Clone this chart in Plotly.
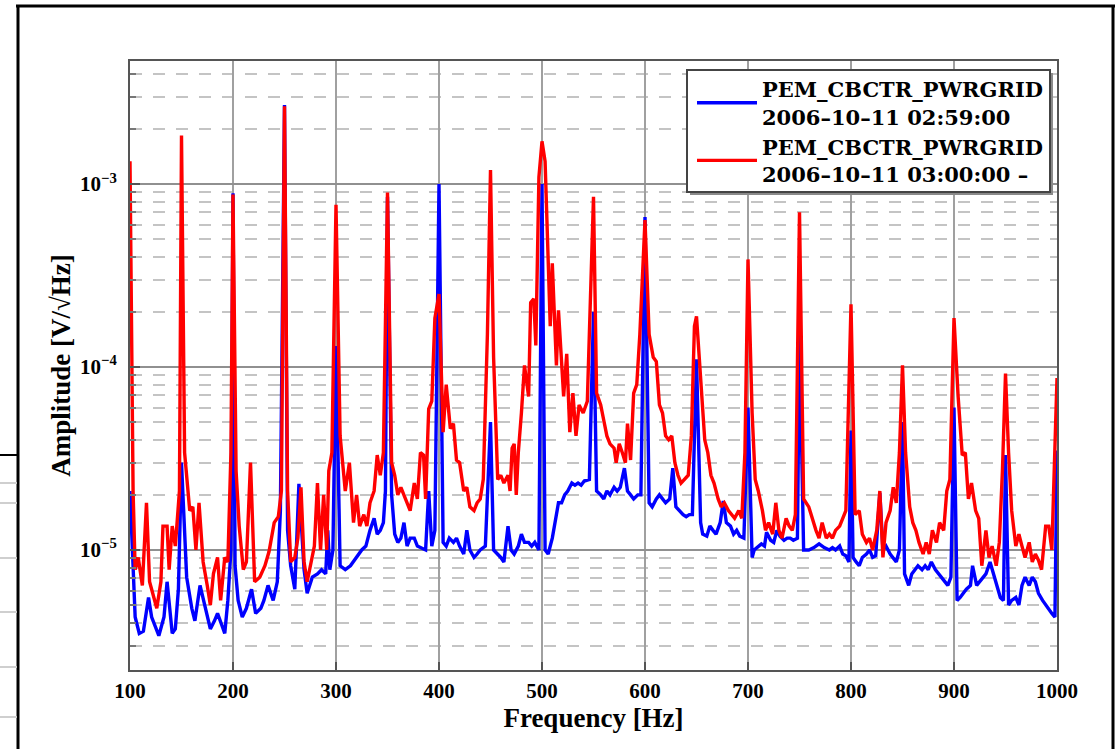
import plotly.graph_objects as go

# ---------------- data ----------------
blue_freq = [100, 105, 109, 113, 118, 121, 128, 133, 136, 141, 144, 147, 150, 155, 160, 163, 168, 173, 178, 182,
             185, 189, 192, 195, 198, 200, 202, 205, 209, 213, 218, 222, 227, 230, 234, 239, 243, 246, 250, 253,
             256, 260, 264, 269, 272, 277, 282, 286, 290, 292, 294, 297, 300, 304, 309, 314, 320, 325, 329, 333,
             337, 340, 343, 346, 348, 350, 354, 357, 360, 363, 366, 369, 372, 376, 379, 382, 387, 390, 393, 396,
             400, 404, 407, 410, 414, 417, 420, 424, 427, 430, 434, 437, 440, 445, 450, 453, 457, 460, 463, 467,
             470, 473, 477, 480, 483, 487, 490, 493, 497, 500, 503, 506, 510, 513, 516, 519, 522, 525, 529, 532,
             535, 538, 541, 546, 550, 553, 557, 560, 563, 566, 570, 573, 576, 580, 583, 586, 589, 593, 596, 600,
             604, 607, 611, 614, 617, 620, 624, 627, 630, 633, 637, 640, 643, 646, 650, 654, 656, 660, 663, 666,
             669, 673, 676, 679, 683, 686, 689, 692, 696, 700, 704, 706, 710, 713, 716, 718, 722, 725, 728, 731,
             735, 738, 741, 744, 748, 750, 754, 759, 764, 769, 774, 779, 782, 785, 789, 792, 795, 798, 800, 802,
             805, 808, 811, 815, 818, 821, 824, 828, 831, 834, 838, 841, 844, 847, 850, 852, 856, 859, 862, 865,
             869, 872, 875, 878, 882, 885, 888, 891, 894, 897, 900, 903, 906, 909, 912, 916, 918, 922, 925, 928,
             931, 935, 939, 942, 945, 948, 950, 953, 956, 960, 963, 966, 969, 973, 976, 979, 982, 986, 989, 992,
             995, 998, 1000]
blue_amp = [2.1e-5, 4.3e-6, 3.5e-6, 3.6e-6, 5.5e-6, 4.3e-6, 3.4e-6, 4.3e-6, 6.7e-6, 3.5e-6, 3.7e-6, 6.1e-6, 3.0e-5, 7.1e-6, 4.8e-6, 4.1e-6, 6.4e-6, 4.8e-6, 3.7e-6, 4.1e-6,
            4.5e-6, 3.9e-6, 3.5e-6, 5.3e-6, 1.0e-5, 8.9e-4, 8.2e-6, 5.3e-6, 4.3e-6, 4.8e-6, 6.1e-6, 4.5e-6, 4.8e-6, 5.3e-6, 6.4e-6, 5.3e-6, 6.7e-6, 1.64e-5, 2.7e-3, 1.28e-5,
            8.2e-6, 6.1e-6, 2.3e-5, 7.8e-6, 5.8e-6, 7.1e-6, 7.4e-6, 7.8e-6, 7.4e-6, 1.28e-5, 7.8e-6, 1.0e-5, 1.3e-4, 8.2e-6, 7.8e-6, 8.2e-6, 9.1e-6, 1.0e-5, 1.05e-5, 1.28e-5,
            1.49e-5, 1.22e-5, 1.28e-5, 1.41e-5, 2.1e-5, 8.5e-4, 2.0e-5, 1.22e-5, 1.1e-5, 1.16e-5, 1.41e-5, 1.05e-5, 1.16e-5, 1.16e-5, 1.05e-5, 1.03e-5, 1.0e-5, 2.1e-5, 1.05e-5, 1.28e-5,
            1.0e-3, 1.1e-5, 1.05e-5, 1.16e-5, 1.1e-5, 1.16e-5, 1.05e-5, 9.5e-6, 1.28e-5, 1.0e-5, 9.1e-6, 9.5e-6, 1.0e-5, 1.05e-5, 5.0e-5, 1.0e-5, 9.5e-6, 9.1e-6, 8.6e-6, 1.35e-5,
            1.0e-5, 9.5e-6, 1.05e-5, 1.22e-5, 1.1e-5, 1.1e-5, 1.05e-5, 1.1e-5, 1.0e-5, 1.0e-3, 1.0e-5, 9.5e-6, 1.16e-5, 1.49e-5, 1.81e-5, 1.81e-5, 2.0e-5, 2.1e-5, 2.32e-5, 2.26e-5,
            2.32e-5, 2.26e-5, 2.38e-5, 2.43e-5, 2.0e-4, 2.1e-5, 2.0e-5, 1.9e-5, 2.1e-5, 2.0e-5, 2.2e-5, 2.1e-5, 2.2e-5, 2.8e-5, 2.1e-5, 2.0e-5, 1.9e-5, 2.0e-5, 2.0e-5, 6.6e-4,
            1.81e-5, 1.72e-5, 1.9e-5, 2.0e-5, 1.9e-5, 1.81e-5, 1.9e-5, 2.8e-5, 1.72e-5, 1.64e-5, 1.56e-5, 1.52e-5, 1.56e-5, 1.56e-5, 1.1e-4, 1.41e-5, 1.22e-5, 1.19e-5, 1.35e-5, 1.28e-5,
            1.22e-5, 1.41e-5, 1.85e-5, 1.41e-5, 1.35e-5, 1.22e-5, 1.28e-5, 1.19e-5, 1.16e-5, 6.0e-5, 9.1e-6, 1.0e-5, 1.05e-5, 1.08e-5, 1.05e-5, 1.25e-5, 1.13e-5, 1.1e-5, 1.28e-5, 1.19e-5,
            1.13e-5, 1.16e-5, 1.16e-5, 1.13e-5, 1.16e-5, 1.5e-4, 1.0e-5, 1.0e-5, 1.03e-5, 1.08e-5, 1.03e-5, 1.0e-5, 1.03e-5, 1.0e-5, 1.05e-5, 9.5e-6, 9.3e-6, 8.6e-6, 4.5e-5, 9.1e-6,
            8.6e-6, 8.2e-6, 9.1e-6, 9.5e-6, 1.0e-5, 9.1e-6, 9.3e-6, 2.05e-5, 1.0e-5, 1.05e-5, 9.5e-6, 9.1e-6, 8.6e-6, 1.0e-5, 5.0e-5, 7.4e-6, 6.4e-6, 7.4e-6, 7.8e-6, 8.2e-6,
            7.8e-6, 8.2e-6, 7.8e-6, 8.6e-6, 7.8e-6, 7.4e-6, 7.1e-6, 6.7e-6, 6.4e-6, 7.1e-6, 6.0e-5, 5.3e-6, 5.5e-6, 5.8e-6, 6.1e-6, 6.4e-6, 8.2e-6, 6.4e-6, 6.7e-6, 7.1e-6,
            7.4e-6, 8.6e-6, 7.1e-6, 6.4e-6, 5.5e-6, 5.3e-6, 3.3e-5, 5.0e-6, 5.3e-6, 5.5e-6, 5.0e-6, 6.4e-6, 7.1e-6, 6.4e-6, 7.1e-6, 6.7e-6, 5.8e-6, 5.3e-6, 5.0e-6, 4.8e-6,
            4.5e-6, 4.3e-6, 3.5e-5]

red_freq = [100, 103, 105, 108, 112, 116, 119, 123, 126, 130, 132, 136, 138, 141, 144, 148, 150, 153, 158, 161,
            164, 167, 171, 175, 178, 181, 185, 188, 192, 195, 198, 200, 203, 206, 210, 213, 217, 221, 226, 231,
            235, 240, 244, 247, 250, 253, 256, 260, 263, 266, 269, 272, 275, 279, 282, 285, 288, 291, 293, 296,
            300, 304, 309, 313, 317, 320, 323, 327, 330, 333, 337, 340, 343, 346, 350, 354, 357, 360, 363, 366,
            369, 372, 376, 379, 382, 385, 387, 390, 393, 396, 400, 404, 407, 411, 414, 417, 420, 424, 427, 430,
            434, 437, 440, 443, 447, 450, 453, 457, 460, 463, 467, 469, 471, 473, 475, 477, 480, 483, 487, 489,
            492, 494, 497, 500, 503, 506, 508, 510, 514, 516, 519, 521, 524, 527, 530, 533, 536, 540, 544, 550,
            553, 557, 560, 563, 566, 570, 572, 575, 578, 581, 583, 586, 589, 592, 595, 600, 604, 608, 611, 614,
            617, 620, 623, 626, 629, 632, 635, 638, 642, 645, 648, 650, 654, 658, 661, 664, 667, 671, 674, 677,
            681, 684, 687, 691, 694, 697, 700, 704, 707, 710, 714, 717, 720, 724, 727, 730, 733, 737, 740, 743,
            746, 750, 754, 759, 762, 766, 769, 772, 776, 779, 782, 785, 789, 792, 795, 800, 804, 808, 811, 815,
            818, 821, 825, 828, 831, 834, 838, 841, 844, 847, 850, 853, 857, 860, 863, 866, 870, 873, 876, 879,
            883, 886, 890, 893, 896, 900, 904, 908, 911, 914, 917, 921, 924, 927, 931, 934, 937, 941, 944, 947,
            950, 953, 956, 960, 963, 966, 969, 973, 976, 979, 982, 985, 989, 992, 995, 1000]
red_amp = [1.33e-3, 2.1e-5, 7.8e-6, 9.1e-6, 6.4e-6, 1.81e-5, 6.7e-6, 5.5e-6, 4.8e-6, 6.7e-6, 1.35e-5, 1.35e-5, 7.8e-6, 1.35e-5, 1.05e-5, 2.1e-5, 1.84e-3, 3.4e-5, 1.64e-5, 1.72e-5,
           1.0e-5, 1.81e-5, 8.6e-6, 6.4e-6, 5.0e-6, 7.4e-6, 9.1e-6, 5.3e-6, 9.1e-6, 8.6e-6, 3.4e-5, 8.75e-4, 2.7e-5, 1.35e-5, 7.8e-6, 8.6e-6, 3.0e-5, 6.7e-6, 7.1e-6, 8.2e-6,
           9.8e-6, 1.41e-5, 1.52e-5, 2.1e-5, 2.66e-3, 2.1e-5, 8.6e-6, 9.1e-6, 1.16e-5, 2.2e-5, 8.6e-6, 6.7e-6, 8.2e-6, 1.05e-5, 2.32e-5, 1.0e-5, 2.0e-5, 1.0e-5, 2.7e-5, 3.4e-5,
           7.7e-4, 4.2e-5, 2.1e-5, 3.0e-5, 1.41e-5, 2.0e-5, 1.35e-5, 1.56e-5, 1.35e-5, 1.81e-5, 2.1e-5, 3.3e-5, 2.56e-5, 3.4e-5, 8.97e-4, 3.0e-5, 2.56e-5, 2.0e-5, 2.2e-5, 2.0e-5,
           1.81e-5, 1.64e-5, 2.32e-5, 1.9e-5, 3.4e-5, 3.3e-5, 1.9e-5, 5.9e-5, 6.5e-5, 1.85e-4, 2.5e-4, 4.4e-5, 8.0e-5, 4.6e-5, 4.9e-5, 3.1e-5, 3.0e-5, 2.1e-5, 2.2e-5, 1.72e-5,
           1.64e-5, 1.81e-5, 1.9e-5, 2.43e-5, 1.51e-4, 1.19e-3, 1.13e-4, 2.43e-5, 2.56e-5, 2.32e-5, 2.56e-5, 2.1e-5, 3.6e-5, 3.8e-5, 2.0e-5, 3.4e-5, 5.6e-5, 1.02e-4, 6.9e-5, 2.25e-4,
           2.36e-4, 1.31e-4, 1.09e-3, 1.71e-3, 1.33e-3, 4.06e-4, 1.67e-4, 3.69e-4, 1.02e-4, 2.04e-4, 1.13e-4, 6.9e-5, 1.18e-4, 4.4e-5, 7.2e-5, 4.2e-5, 6.2e-5, 5.6e-5, 6.5e-5, 8.5e-4,
           7.2e-5, 6.2e-5, 5.1e-5, 4.2e-5, 3.8e-5, 3.6e-5, 3.0e-5, 3.8e-5, 3.4e-5, 3.0e-5, 4.9e-5, 3.1e-5, 7.2e-5, 8.0e-5, 1.51e-4, 6.35e-4, 1.51e-4, 1.13e-4, 1.07e-4, 6.2e-5,
           5.6e-5, 4.2e-5, 4.0e-5, 4.2e-5, 3.0e-5, 2.56e-5, 2.32e-5, 2.43e-5, 2.56e-5, 4.2e-5, 1.67e-4, 1.89e-4, 8.0e-5, 4.0e-5, 3.4e-5, 2.56e-5, 2.32e-5, 1.9e-5, 1.72e-5, 1.81e-5,
           1.64e-5, 1.56e-5, 1.49e-5, 1.64e-5, 1.49e-5, 3.4e-5, 3.87e-4, 5.6e-5, 2.43e-5, 2.1e-5, 1.64e-5, 1.28e-5, 1.41e-5, 1.22e-5, 1.81e-5, 1.28e-5, 1.16e-5, 1.49e-5, 1.35e-5, 1.28e-5,
           1.56e-5, 7.0e-4, 1.9e-5, 1.72e-5, 1.49e-5, 1.28e-5, 1.16e-5, 1.41e-5, 1.16e-5, 1.22e-5, 1.16e-5, 1.28e-5, 1.35e-5, 1.49e-5, 1.64e-5, 2.2e-4, 1.56e-5, 1.64e-5, 1.22e-5, 1.1e-5,
           1.16e-5, 1.0e-5, 1.28e-5, 2.1e-5, 9.1e-6, 1.41e-5, 1.64e-5, 2.2e-5, 1.81e-5, 3.4e-5, 1.02e-4, 3.4e-5, 1.72e-5, 1.41e-5, 1.28e-5, 1.1e-5, 9.5e-6, 1.1e-5, 9.5e-6, 1.28e-5,
           1.1e-5, 1.41e-5, 1.28e-5, 2.1e-5, 2.43e-5, 1.85e-4, 6.9e-5, 3.3e-5, 3.4e-5, 1.9e-5, 2.32e-5, 1.64e-5, 1.49e-5, 8.2e-6, 1.28e-5, 9.1e-6, 1.05e-5, 8.2e-6, 1.1e-5, 2.7e-5,
           9.2e-5, 3.4e-5, 1.64e-5, 1.05e-5, 1.22e-5, 1.05e-5, 9.1e-6, 1.1e-5, 8.6e-6, 9.5e-6, 8.8e-6, 7.8e-6, 1.35e-5, 1.35e-5, 1.0e-5, 8.7e-5]

series_names = ["PEM_CBCTR_PWRGRID<br>2006\u201310\u201311 02:59:00",
                "PEM_CBCTR_PWRGRID<br>2006\u201310\u201311 03:00:00 \u2013"]
x_ticks = [100, 200, 300, 400, 500, 600, 700, 800, 900, 1000]
y_ticks = [1e-5, 1e-4, 1e-3]
y_tick_text = ["10<sup>\u22125</sup>", "10<sup>\u22124</sup>", "10<sup>\u22123</sup>"]
x_title = "Frequency [Hz]"
y_title = "Amplitude [V/\u221aHz]"

# ---------------- layout geometry ----------------
W, H = 1120, 749
PL, PR, PT, PB = 130, 1057, 61, 670   # plot-area edges in page pixels
ML, MT = PL, PT
MR, MB = W - PR, H - PB
PW, PH = PR - PL, PB - PT
FONT = "Liberation Serif"
LEGEND_FONT = "DejaVu Serif"


def px(x):
    return (x - PL) / PW


def py(y):
    return (PB - y) / PH


minor_vals = [k * 10.0 ** e for e in range(-7, -1) for k in range(2, 10)]

fig = go.Figure()
fig.add_trace(go.Scatter(x=blue_freq, y=blue_amp, mode="lines", name=series_names[0],
                         line=dict(color="#0000ff", width=3.4)))
fig.add_trace(go.Scatter(x=red_freq, y=red_amp, mode="lines", name=series_names[1],
                         line=dict(color="#ff0000", width=3.4)))

axis_font = dict(family=FONT, size=21, color="black", weight="bold")
title_font = dict(family=FONT, size=27, color="black", weight="bold")

fig.update_xaxes(range=[100, 1000], tickvals=x_ticks, ticks="inside", ticklen=8, tickwidth=1.5,
                 tickcolor="#555", showline=True, linecolor="#555", linewidth=2, mirror=True,
                 showgrid=True, gridcolor="#a0a0a0", gridwidth=1.5, zeroline=False,
                 tickfont=axis_font, ticklabelstandoff=1,
                 title=dict(text=x_title, font=title_font, standoff=3))
fig.update_yaxes(type="log", range=[-5.656, -2.328], tickvals=y_ticks, ticktext=y_tick_text,
                 ticks="inside", ticklen=10, tickwidth=1.5, tickcolor="#555",
                 showline=True, linecolor="#555", linewidth=2, mirror=True,
                 showgrid=True, gridcolor="#909090", gridwidth=1.5, zeroline=False,
                 tickfont=axis_font, ticklabelstandoff=7,
                 minor=dict(tickmode="array", tickvals=minor_vals, ticks="inside", ticklen=6,
                            tickcolor="#777", showgrid=True, gridcolor="#c4c4c4", gridwidth=2,
                            griddash="12px,11px"),
                 title=dict(text=y_title, font=title_font, standoff=2))

shapes = []
# legend frame with drop shadow (the legend itself is drawn transparent on top)
shapes.append(dict(type="rect", xref="paper", yref="paper", x0=px(690), x1=px(1053), y0=py(73), y1=py(195),
                   line=dict(width=0), fillcolor="#8a8a8a", layer="above"))
shapes.append(dict(type="rect", xref="paper", yref="paper", x0=px(687), x1=px(1050), y0=py(70), y1=py(192),
                   line=dict(width=2, color="#444"), fillcolor="white", layer="above"))
# outer page frame
frame = dict(type="line", xref="paper", yref="paper", line=dict(color="black", width=3), layer="above")
shapes.append({**frame, "x0": px(16), "x1": px(1115), "y0": py(6), "y1": py(6)})
shapes.append({**frame, "x0": px(18), "x1": px(18), "y0": py(6), "y1": py(760)})
shapes.append({**frame, "x0": px(1113), "x1": px(1113), "y0": py(6), "y1": py(760)})
# fragment of a neighbouring table at the left edge
shapes.append(dict(type="line", xref="paper", yref="paper", x0=px(0), x1=px(17), y0=py(455), y1=py(455),
                   line=dict(color="black", width=2)))
for yy in [483, 503, 558, 612, 667, 717]:
    shapes.append(dict(type="line", xref="paper", yref="paper", x0=px(0), x1=px(17), y0=py(yy), y1=py(yy),
                       line=dict(color="#cfcfcf", width=2)))

fig.update_layout(
    width=W, height=H, autosize=False,
    margin=dict(l=ML, r=MR, t=MT, b=MB, pad=0),
    paper_bgcolor="white", plot_bgcolor="white",
    font=dict(family=FONT, color="black"),
    shapes=shapes,
    showlegend=True,
    legend=dict(x=px(692), y=py(69), xanchor="left", yanchor="top",
                bgcolor="rgba(0,0,0,0)", borderwidth=0,
                font=dict(family=LEGEND_FONT, size=21, color="black", weight="bold"),
                itemwidth=60, tracegroupgap=0),
)

fig.write_html("out.html", config={"displayModeBar": False},
               post_script="document.body.style.margin='0';")
